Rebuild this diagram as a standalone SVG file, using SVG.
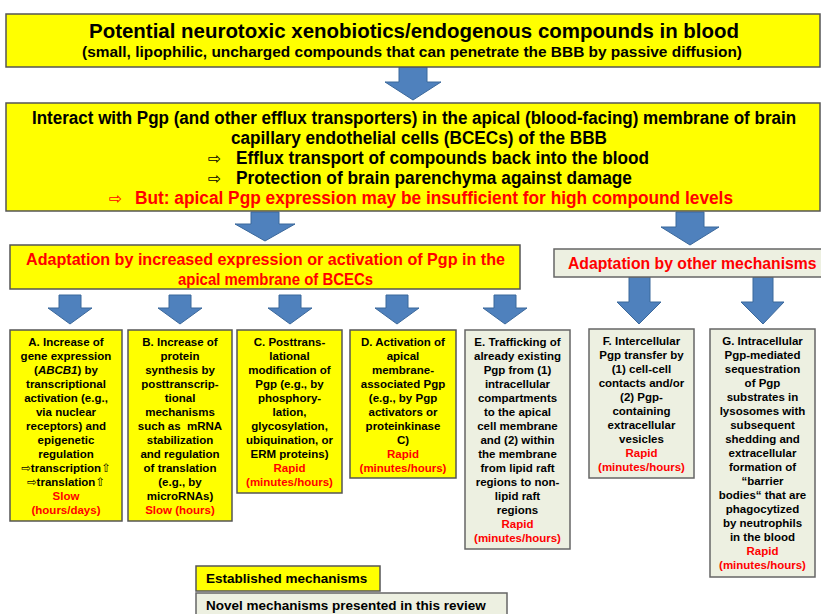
<svg xmlns="http://www.w3.org/2000/svg" width="821" height="614" viewBox="0 0 821 614">
<style>
.y{fill:#ffff00;stroke:#555;stroke-width:1.5}
.g{fill:#edf0e1;stroke:#666;stroke-width:1.5}
.ar{fill:#4f81bd;stroke:#3b689b;stroke-width:1}
.h{font-family:"Liberation Sans",Arial,sans-serif;font-weight:bold;fill:#000}
.s{font-family:"Liberation Sans",Arial,sans-serif;font-weight:bold;font-size:11.5px;text-anchor:middle;fill:#000}
.r{fill:#ff0000}
.sym{font-family:"DejaVu Sans",sans-serif;font-weight:normal}
</style>
<rect width="821" height="614" fill="#fff"/>
<g id="connectors">
<path class="ar" d="M399,67 H427 V82 H441 L413,100 L385,82 H399 Z"/>
<path class="ar" d="M251,212 H279 V224 H295 L265,241 L235,224 H251 Z"/>
<path class="ar" d="M676,212 H704 V227 H719 L690,245 L661,227 H676 Z"/>
<path class="ar" d="M59,295 H81 V308 H92 L70,324 L48,308 H59 Z"/>
<path class="ar" d="M169,295 H191 V308 H202 L180,324 L158,308 H169 Z"/>
<path class="ar" d="M279,295 H301 V308 H312 L290,324 L268,308 H279 Z"/>
<path class="ar" d="M386,295 H408 V308 H419 L397,324 L375,308 H386 Z"/>
<path class="ar" d="M494,295 H516 V308 H527 L505,324 L483,308 H494 Z"/>
<path class="ar" d="M629,277 H650 V302 H661 L639,324 L617,302 H629 Z"/>
<path class="ar" d="M753,277 H773 V302 H784 L763,324 L741,302 H753 Z"/>
</g>
<g id="n-top">
<rect class="y" x="6" y="14" width="814" height="53"/>
<text class="h" x="89" y="38" font-size="20" textLength="650" lengthAdjust="spacingAndGlyphs">Potential neurotoxic xenobiotics/endogenous compounds in blood</text>
<text class="h" x="82" y="57" font-size="15" textLength="660" lengthAdjust="spacingAndGlyphs">(small, lipophilic, uncharged compounds that can penetrate the BBB by passive diffusion)</text>
</g>
<g id="n-interact">
<rect class="y" x="6" y="103" width="814" height="108"/>
<text class="h" font-size="18" transform="translate(32,124) scale(0.945,1)">Interact with Pgp (and other efflux transporters) in the apical (blood-facing) membrane of brain</text>
<text class="h" x="231" y="144" font-size="18" textLength="376" lengthAdjust="spacingAndGlyphs">capillary endothelial cells (BCECs) of the BBB</text>
<text class="h sym" x="208" y="164" font-size="16">⇨</text>
<text class="h" x="236" y="164" font-size="18" textLength="413" lengthAdjust="spacingAndGlyphs">Efflux transport of compounds back into the blood</text>
<text class="h sym" x="208" y="184" font-size="16">⇨</text>
<text class="h" x="236" y="184" font-size="18" textLength="396" lengthAdjust="spacingAndGlyphs">Protection of brain parenchyma against damage</text>
<text class="h sym r" x="109" y="204" font-size="16">⇨</text>
<text class="h r" x="135" y="204" font-size="18" textLength="598" lengthAdjust="spacingAndGlyphs">But: apical Pgp expression may be insufficient for high compound levels</text>
</g>
<g id="n-adapt-pgp">
<rect class="y" x="10" y="245" width="510" height="44"/>
<text class="h r" x="26" y="265" font-size="16.5" textLength="479" lengthAdjust="spacingAndGlyphs">Adaptation by increased expression or activation of Pgp in the</text>
<text class="h r" x="178" y="285" font-size="16.5" textLength="195" lengthAdjust="spacingAndGlyphs">apical membrane of BCECs</text>
</g>
<g id="n-adapt-other">
<rect class="g" x="554" y="249" width="270" height="28"/>
<text class="h r" font-size="16.5" transform="translate(568,269) scale(0.955,1)">Adaptation by other mechanisms</text>
</g>
<g id="n-A">
<rect class="y" x="10" y="330" width="112" height="191"/>
<text class="s" x="66" y="346">A. Increase of</text>
<text class="s" x="66" y="360">gene expression</text>
<text class="s" x="66" y="374">(<tspan font-style="italic">ABCB1</tspan>) by</text>
<text class="s" x="66" y="388">transcriptional</text>
<text class="s" x="66" y="402">activation (e.g.,</text>
<text class="s" x="66" y="416">via nuclear</text>
<text class="s" x="66" y="430">receptors) and</text>
<text class="s" x="66" y="444">epigenetic</text>
<text class="s" x="66" y="458">regulation</text>
<text class="s" x="66" y="472"><tspan class="sym">⇨</tspan>transcription<tspan class="sym">⇧</tspan></text>
<text class="s" x="66" y="486"><tspan class="sym">⇨</tspan>translation<tspan class="sym">⇧</tspan></text>
<text class="s r" x="66" y="500">Slow</text>
<text class="s r" x="66" y="514">(hours/days)</text>
</g>
<g id="n-B">
<rect class="y" x="128" y="330" width="104" height="191"/>
<text class="s" x="180" y="346">B. Increase of</text>
<text class="s" x="180" y="360">protein</text>
<text class="s" x="180" y="374">synthesis by</text>
<text class="s" x="180" y="388">posttranscrip-</text>
<text class="s" x="180" y="402">tional</text>
<text class="s" x="180" y="416">mechanisms</text>
<text class="s" x="180" y="430" xml:space="preserve">such as  mRNA</text>
<text class="s" x="180" y="444">stabilization</text>
<text class="s" x="180" y="458">and regulation</text>
<text class="s" x="180" y="472">of translation</text>
<text class="s" x="180" y="486">(e.g., by</text>
<text class="s" x="180" y="500">microRNAs)</text>
<text class="s r" x="180" y="514">Slow (hours)</text>
</g>
<g id="n-C">
<rect class="y" x="237" y="330" width="105" height="163"/>
<text class="s" x="289.5" y="346">C. Posttrans-</text>
<text class="s" x="289.5" y="360">lational</text>
<text class="s" x="289.5" y="374">modification of</text>
<text class="s" x="289.5" y="388">Pgp (e.g., by</text>
<text class="s" x="289.5" y="402">phosphory-</text>
<text class="s" x="289.5" y="416">lation,</text>
<text class="s" x="289.5" y="430">glycosylation,</text>
<text class="s" x="289.5" y="444">ubiquination, or</text>
<text class="s" x="289.5" y="458">ERM proteins)</text>
<text class="s r" x="289.5" y="472">Rapid</text>
<text class="s r" x="289.5" y="486">(minutes/hours)</text>
</g>
<g id="n-D">
<rect class="y" x="350" y="330" width="106" height="148"/>
<text class="s" x="403" y="346">D. Activation of</text>
<text class="s" x="403" y="360">apical</text>
<text class="s" x="403" y="374">membrane-</text>
<text class="s" x="403" y="388">associated Pgp</text>
<text class="s" x="403" y="402">(e.g., by Pgp</text>
<text class="s" x="403" y="416">activators or</text>
<text class="s" x="403" y="430">proteinkinase</text>
<text class="s" x="403" y="444">C)</text>
<text class="s r" x="403" y="458">Rapid</text>
<text class="s r" x="403" y="472">(minutes/hours)</text>
</g>
<g id="n-E">
<rect class="g" x="465" y="330" width="105" height="219"/>
<text class="s" x="517.5" y="346">E. Trafficking of</text>
<text class="s" x="517.5" y="360">already existing</text>
<text class="s" x="517.5" y="374">Pgp from (1)</text>
<text class="s" x="517.5" y="388">intracellular</text>
<text class="s" x="517.5" y="402">compartments</text>
<text class="s" x="517.5" y="416">to the apical</text>
<text class="s" x="517.5" y="430">cell membrane</text>
<text class="s" x="517.5" y="444">and (2) within</text>
<text class="s" x="517.5" y="458">the membrane</text>
<text class="s" x="517.5" y="472">from lipid raft</text>
<text class="s" x="517.5" y="486">regions to non-</text>
<text class="s" x="517.5" y="500">lipid raft</text>
<text class="s" x="517.5" y="514">regions</text>
<text class="s r" x="517.5" y="528">Rapid</text>
<text class="s r" x="517.5" y="542">(minutes/hours)</text>
</g>
<g id="n-F">
<rect class="g" x="589" y="329" width="105" height="149"/>
<text class="s" x="641.5" y="345">F. Intercellular</text>
<text class="s" x="641.5" y="359">Pgp transfer by</text>
<text class="s" x="641.5" y="373">(1) cell-cell</text>
<text class="s" x="641.5" y="387">contacts and/or</text>
<text class="s" x="641.5" y="401">(2) Pgp-</text>
<text class="s" x="641.5" y="415">containing</text>
<text class="s" x="641.5" y="429">extracellular</text>
<text class="s" x="641.5" y="443">vesicles</text>
<text class="s r" x="641.5" y="457">Rapid</text>
<text class="s r" x="641.5" y="471">(minutes/hours)</text>
</g>
<g id="n-G">
<rect class="g" x="710" y="329" width="105" height="248"/>
<text class="s" x="762.5" y="345">G. Intracellular</text>
<text class="s" x="762.5" y="359">Pgp-mediated</text>
<text class="s" x="762.5" y="373">sequestration</text>
<text class="s" x="762.5" y="387">of Pgp</text>
<text class="s" x="762.5" y="401">substrates in</text>
<text class="s" x="762.5" y="415">lysosomes with</text>
<text class="s" x="762.5" y="429">subsequent</text>
<text class="s" x="762.5" y="443">shedding and</text>
<text class="s" x="762.5" y="457">extracellular</text>
<text class="s" x="762.5" y="471">formation of</text>
<text class="s" x="762.5" y="485">“barrier</text>
<text class="s" x="762.5" y="499">bodies“ that are</text>
<text class="s" x="762.5" y="513">phagocytized</text>
<text class="s" x="762.5" y="527">by neutrophils</text>
<text class="s" x="762.5" y="541">in the blood</text>
<text class="s r" x="762.5" y="555">Rapid</text>
<text class="s r" x="762.5" y="569">(minutes/hours)</text>
</g>
<g id="legend-established">
<rect class="y" x="196" y="566" width="184" height="25"/>
<text class="h" x="206" y="583" font-size="13.5">Established mechanisms</text>
</g>
<g id="legend-novel">
<rect class="g" x="196" y="593" width="311" height="25"/>
<text class="h" x="206" y="610" font-size="13.5">Novel mechanisms presented in this review</text>
</g>
</svg>
